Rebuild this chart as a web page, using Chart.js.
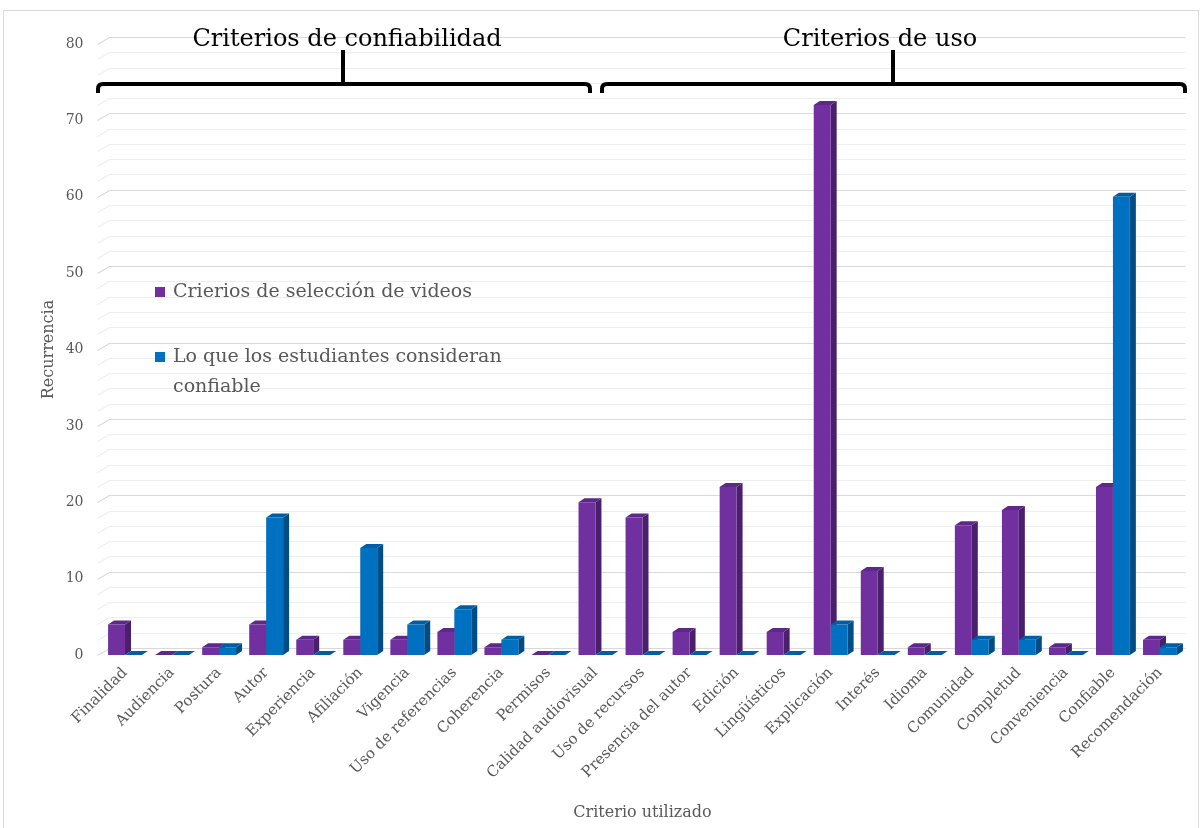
<!DOCTYPE html>
<html>
<head>
<meta charset="utf-8">
<script src="https://cdn.jsdelivr.net/npm/chart.js@4"></script>
<style>
  body { margin: 0; background: #fff; }
  canvas { display: block; }
</style>
</head>
<body>
<canvas id="myChart" width="1202" height="828"></canvas>
<script>
var criterios = ['Finalidad', 'Audiencia', 'Postura', 'Autor', 'Experiencia', 'Afiliación', 'Vigencia',
    'Uso de referencias', 'Coherencia', 'Permisos', 'Calidad audiovisual', 'Uso de recursos',
    'Presencia del autor', 'Edición', 'Lingüísticos', 'Explicación', 'Interés', 'Idioma',
    'Comunidad', 'Completud', 'Conveniencia', 'Confiable', 'Recomendación'];
var seleccionVideos = [4, 0, 1, 4, 2, 2, 2, 3, 1, 0, 20, 18, 3, 22, 3, 72, 11, 1, 17, 19, 1, 22, 2];
var consideranConfiable = [0, 0, 1, 18, 0, 14, 4, 6, 2, 0, 0, 0, 0, 0, 0, 4, 0, 0, 2, 2, 0, 60, 1];
var serieNombres = ['Crierios de selección de videos', 'Lo que los estudiantes consideran confiable'];
var grupos = ['Criterios de confiabilidad', 'Criterios de uso'];

var FONT = '"DejaVu Serif", "Liberation Serif", serif';
var GRIS = '#595959';

// side / top face colours for the fake 3D columns
var caras = [
    { front: '#7030A0', side: '#4A1F6C', top: '#5E2889' },
    { front: '#0070C0', side: '#004C84', top: '#005FA3' }
];
var DX = 6, DY = 4;

// back wall grid, then the extruded faces of every column
var efecto3d = {
    id: 'efecto3d',
    beforeDatasetsDraw: function (chart) {
        var c = chart.ctx, a = chart.chartArea, y = chart.scales.y;
        c.save();
        for (var v = 0; v <= 80; v += 2) {
            var py = Math.round(y.getPixelForValue(v)) + 0.5;
            c.strokeStyle = v % 10 === 0 ? '#d9d9d9' : '#eeeeee';
            c.lineWidth = 1.2;
            c.beginPath();
            c.moveTo(a.left - 4, py);
            c.lineTo(a.left + 8, py - 7);
            c.lineTo(a.right + 2, py - 7);
            c.stroke();
        }
        chart.data.datasets.forEach(function (ds, i) {
            var meta = chart.getDatasetMeta(i);
            meta.data.forEach(function (el) {
                var p = el.getProps(['x', 'y', 'base', 'width'], true);
                var l = p.x - p.width / 2, r = p.x + p.width / 2;
                c.fillStyle = caras[i].side;
                c.beginPath();
                c.moveTo(r, p.y);
                c.lineTo(r + DX, p.y - DY);
                c.lineTo(r + DX, p.base - DY);
                c.lineTo(r, p.base);
                c.closePath();
                c.fill();
                c.fillStyle = caras[i].top;
                c.beginPath();
                c.moveTo(l, p.y);
                c.lineTo(l + DX, p.y - DY);
                c.lineTo(r + DX, p.y - DY);
                c.lineTo(r, p.y);
                c.closePath();
                c.fill();
            });
        });
        c.restore();
    },
    afterDraw: function (chart) {
        var c = chart.ctx;
        c.save();
        // outer frame
        c.strokeStyle = '#d9d9d9';
        c.lineWidth = 1;
        c.strokeRect(3.5, 10.5, 1195, 830);

        // legend inside the plot
        c.font = '19px ' + FONT;
        c.textBaseline = 'middle';
        c.fillStyle = caras[0].front;
        c.fillRect(155, 287, 10, 10);
        c.fillStyle = caras[1].front;
        c.fillRect(155, 352, 10, 10);
        c.fillStyle = GRIS;
        c.fillText(serieNombres[0], 173, 292);
        c.fillText('Lo que los estudiantes consideran', 173, 357);
        c.fillText('confiable', 173, 387);

        // group brackets
        c.strokeStyle = '#000';
        c.lineWidth = 4;
        c.lineJoin = 'round';
        var llaves = [[98, 590, 343], [602, 1185, 893]];
        llaves.forEach(function (b) {
            c.beginPath();
            c.moveTo(b[0], 93);
            c.lineTo(b[0], 89);
            c.quadraticCurveTo(b[0], 84, b[0] + 5, 84);
            c.lineTo(b[1] - 5, 84);
            c.quadraticCurveTo(b[1], 84, b[1], 89);
            c.lineTo(b[1], 93);
            c.moveTo(b[2], 84);
            c.lineTo(b[2], 50);
            c.stroke();
        });
        c.fillStyle = '#000';
        c.font = '24px ' + FONT;
        c.textAlign = 'center';
        c.fillText(grupos[0], 347, 40);
        c.fillText(grupos[1], 880, 40);
        c.restore();
    }
};

var ctx = document.getElementById('myChart').getContext('2d');
var chart = new Chart(ctx, {
    type: 'bar',
    data: {
        labels: criterios,
        datasets: [{
            label: serieNombres[0],
            backgroundColor: caras[0].front,
            data: seleccionVideos
        }, {
            label: serieNombres[1],
            backgroundColor: caras[1].front,
            data: consideranConfiable
        }]
    },
    options: {
        responsive: false,
        animation: false,
        layout: { padding: { left: 39, top: 44, right: 18.5, bottom: 6 } },
        datasets: { bar: { barPercentage: 1, categoryPercentage: 0.72 } },
        plugins: { legend: { display: false }, tooltip: { enabled: false } },
        scales: {
            x: {
                grid: { display: false },
                border: { display: false },
                ticks: {
                    autoSkip: false, minRotation: 45, maxRotation: 45, padding: 1,
                    color: GRIS, font: { family: FONT, size: 15 }
                },
                title: {
                    display: true, text: 'Criterio utilizado', color: GRIS, padding: 0,
                    font: { family: FONT, size: 16 }
                },
                afterFit: function (s) { s.height = 167; }
            },
            y: {
                min: 0, max: 80,
                grid: { display: false },
                border: { display: false },
                ticks: { stepSize: 10, padding: 10, color: GRIS, font: { family: FONT, size: 14 } },
                title: {
                    display: true, text: 'Recurrencia', color: GRIS, padding: 0,
                    font: { family: FONT, size: 16 }
                },
                afterFit: function (s) { s.width = 62.5; }
            }
        }
    },
    plugins: [efecto3d]
});
</script>
</body>
</html>
